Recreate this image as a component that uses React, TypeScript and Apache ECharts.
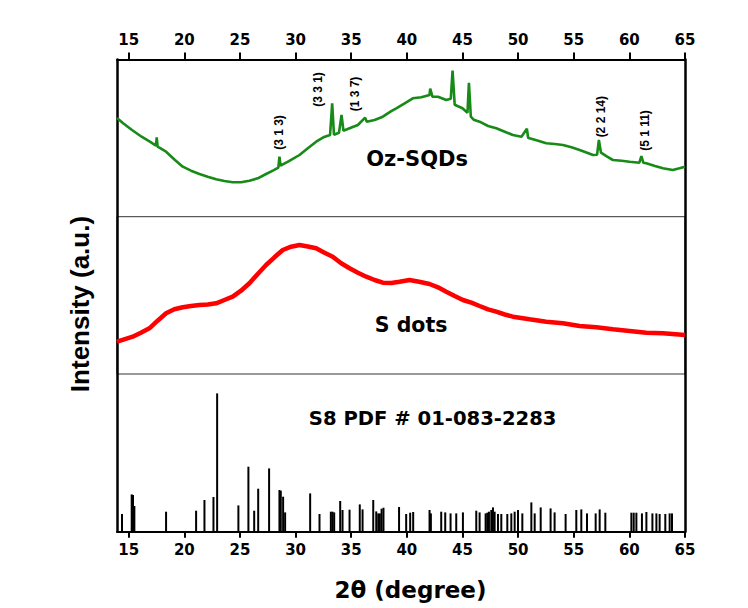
import React, { useEffect, useRef } from "react";
import * as echarts from "echarts";

// ---------- data ----------
const xTicks = [15, 20, 25, 30, 35, 40, 45, 50, 55, 60, 65];

// Oz-SQDs (green) – 2θ and relative intensity within the top panel
const greenX = [13.95, 14.5, 15.3, 16.16, 16.9, 17.45, 17.52, 17.6, 18.36, 19.16, 19.86, 20.6, 21.36, 22.1, 22.86, 23.6, 24.35, 25.1, 25.85, 26.6, 27.35, 28.0, 28.45, 28.55, 28.65, 29.4, 30.35, 31.1, 31.85, 32.5, 33.1, 33.29, 33.45, 33.9, 34.13, 34.3, 34.85, 35.6, 36.25, 36.4, 37.1, 37.84, 38.6, 39.05, 39.8, 40.54, 41.3, 42.04, 42.1, 42.3, 42.8, 43.54, 43.95, 44.11, 44.3, 45.0, 45.45, 45.58, 45.75, 46.0, 46.54, 47.3, 48.04, 48.8, 49.53, 50.3, 50.79, 50.9, 51.03, 51.8, 52.53, 53.3, 54.03, 54.8, 55.53, 56.2, 56.73, 57.1, 57.26, 57.45, 58.0, 58.52, 59.3, 60.02, 60.9, 61.08, 61.25, 61.52, 62.3, 63.02, 63.9, 64.5, 65.0];
const greenY = [98.7, 93.4, 86.7, 80, 75, 71, 79.4, 70, 65, 56.7, 50, 46, 42.7, 40, 37.4, 35.7, 34.4, 34.4, 36, 38.4, 42.7, 46.3, 49, 60, 51, 55.5, 61.7, 68.4, 75, 79.4, 81.7, 113.4, 82, 84, 101.7, 86, 88.4, 91.7, 99, 95, 96.7, 100, 105.5, 108.4, 113.4, 118.4, 119.4, 121.7, 128, 120, 120, 116.7, 118, 146, 112, 108.4, 104, 134, 100, 97, 95, 90.7, 88.4, 85, 81.7, 80, 88, 79, 78.4, 76, 73.4, 72.7, 71.7, 69.4, 66.7, 64, 61.7, 62, 76.7, 64, 60, 56.7, 56, 55, 54, 60.7, 54, 53.4, 50.7, 48.4, 46.7, 48.4, 50];

// S dots (red) – middle panel
const redX = [13.95, 14.6, 15.36, 16.1, 16.86, 17.6, 18.36, 19.1, 19.86, 20.6, 21.36, 22.1, 22.86, 23.6, 24.35, 25.1, 25.85, 26.6, 27.35, 28.1, 28.85, 29.6, 30.35, 31.1, 31.85, 32.6, 33.34, 34.1, 34.85, 35.6, 36.35, 37.1, 37.84, 38.6, 39.34, 40.24, 41.1, 42.04, 42.8, 43.54, 44.3, 45.04, 45.8, 46.54, 47.3, 48.04, 48.8, 49.53, 51.03, 52.53, 54.03, 55.53, 57.03, 58.52, 60.02, 61.52, 63.02, 65.0];
const redY = [32.3, 34.7, 37.3, 41.3, 45.7, 53.3, 60.7, 64.7, 66.7, 68, 69, 69.5, 70.7, 74, 77.3, 83.3, 90.7, 100, 109, 116.7, 124, 127.3, 129, 127.5, 125.7, 121.3, 117.3, 110.7, 105.7, 101.3, 97.3, 94, 91.3, 91, 92.3, 94, 92.3, 90, 86.7, 82.3, 78, 74, 71.3, 68, 64.7, 62.3, 59.5, 57.3, 54.7, 52.3, 50.7, 48, 46.7, 44.7, 43, 41.3, 40.7, 39];

// S8 PDF # 01-083-2283 reference sticks – bottom panel
const stickX = [14.4, 15.27, 15.39, 15.51, 18.36, 21.06, 21.81, 22.62, 22.95, 24.86, 25.76, 26.28, 26.64, 27.62, 28.55, 28.67, 28.88, 29.06, 31.31, 32.15, 33.17, 33.32, 33.47, 34.01, 34.22, 34.85, 35.77, 36.02, 36.98, 37.25, 37.43, 37.57, 37.73, 37.9, 39.3, 39.94, 40.3, 40.57, 42.04, 42.16, 43.09, 43.45, 43.93, 44.44, 45.04, 46.24, 46.54, 47.08, 47.23, 47.38, 47.59, 47.74, 47.89, 48.19, 48.49, 49.03, 49.39, 49.69, 49.99, 50.38, 51.19, 51.49, 52.03, 52.92, 53.28, 54.27, 55.23, 55.68, 56.19, 56.97, 57.33, 57.84, 60.18, 60.39, 60.63, 61.13, 61.53, 62.07, 62.43, 62.72, 63.23, 63.62, 63.83];
const stickH = [17.7, 37.3, 36.7, 25.7, 20, 21, 31.7, 34.7, 138.3, 26.3, 65, 21, 43, 63.3, 41.7, 41, 35, 19.3, 38.3, 17.7, 20, 20, 19.3, 30.7, 21.7, 22, 27.3, 22.3, 31.7, 20.3, 18.3, 18.3, 23, 24, 24.7, 17.7, 19, 19.7, 21.7, 18.3, 20, 19.3, 18.3, 18.3, 19.3, 21, 19.3, 18.3, 19, 20, 21.7, 24.3, 20, 17.7, 17.7, 17.7, 18.3, 20, 21.7, 18.3, 29.3, 18.3, 24.3, 23.3, 19.3, 17.7, 21.7, 22.3, 18.3, 18.3, 22.3, 19, 19, 19, 19, 18.3, 19.7, 18.3, 18.3, 17.7, 17.7, 18.3, 18.3];

// (hkl) annotations on the Oz-SQDs pattern
const hklText = ["(3 1 3)", "(3 3 1)", "(1 3 7)", "(2 2 14)", "(5 1 11)"];
const hklX = [28.5, 32.0, 35.3, 57.48, 61.37];
const hklY = [84.2, 127.2, 122.7, 100, 86.2];

// panel labels
const panelNames = ["Oz-SQDs", "S dots", "S8 PDF # 01-083-2283"];
const panelLabelX = [40.92, 40.38, 42.32];
const panelLabelY = [57.7, 49, 113.7];

const xAxisName = "2\u03b8 (degree)";
const yAxisName = "Intensity (a.u.)";

// ---------- layout ----------
const X_MIN = 13.95;
const X_MAX = 65;
const LEFT = 117;
const RIGHT = 63;
const TOP = 59.5;
const DIV1 = 216.7;
const DIV2 = 374;
const BOTTOM_Y = 531.7;
const H_FONT = "DejaVu Sans";
const A_FONT = "Liberation Sans";

const zip = (a: number[], b: number[]) => a.map((v, i) => [v, b[i]]);

export default function App() {
  const ref = useRef<HTMLDivElement>(null);

  useEffect(() => {
    if (!ref.current) return;
    const chart = echarts.init(ref.current, undefined, { renderer: "svg" });

    const hiddenX = (gridIndex: number) => ({
      gridIndex,
      type: "value",
      min: X_MIN,
      max: X_MAX,
      show: false,
    });
    const hiddenY = (gridIndex: number, max: number) => ({
      gridIndex,
      type: "value",
      min: 0,
      max,
      show: false,
    });
    const frameX = (position: "top" | "bottom", margin: number, tickLen: number) => ({
      gridIndex: 0,
      type: "value",
      position,
      min: X_MIN,
      max: X_MAX,
      axisLine: { show: true, onZero: false, lineStyle: { color: "#000", width: 2 } },
      axisTick: {
        show: true,
        inside: false,
        length: tickLen,
        customValues: xTicks,
        lineStyle: { color: "#000", width: 2 },
      },
      axisLabel: {
        show: true,
        customValues: xTicks,
        margin,
        color: "#000",
        fontFamily: H_FONT,
        fontWeight: "bold",
        fontSize: 15,
      },
      splitLine: { show: false },
    });
    const frameY = (position: "left" | "right") => ({
      gridIndex: 0,
      type: "value",
      position,
      min: 0,
      max: 1,
      axisLine: { show: true, onZero: false, lineStyle: { color: "#000", width: 2.5 } },
      axisTick: { show: false },
      axisLabel: { show: false },
      splitLine: { show: false },
    });

    const panelLabelSeries = (i: number, fontSize: number) => ({
      type: "scatter",
      xAxisIndex: 2 + i,
      yAxisIndex: 2 + i,
      symbolSize: 0,
      silent: true,
      z: 10,
      itemStyle: { opacity: 1 },
      data: [{ name: panelNames[i], value: [panelLabelX[i], panelLabelY[i]] }],
      label: {
        show: true,
        position: "inside",
        formatter: "{b}",
        color: "#000",
        opacity: 1,
        fontFamily: H_FONT,
        fontWeight: "bold",
        fontSize,
      },
    });

    chart.setOption({
      animation: false,
      backgroundColor: "#fff",
      grid: [
        { left: LEFT, right: RIGHT, top: TOP, bottom: 608 - BOTTOM_Y },
        { left: LEFT, right: RIGHT, top: TOP, height: DIV1 - TOP },
        {
          left: LEFT,
          right: RIGHT,
          top: DIV1,
          height: DIV2 - DIV1,
          show: true,
          borderWidth: 1,
          borderColor: "#333",
          backgroundColor: "transparent",
        },
        { left: LEFT, right: RIGHT, top: DIV2, height: BOTTOM_Y - DIV2 },
      ],
      xAxis: [
        frameX("bottom", 11, 6),
        frameX("top", 12, 7),
        hiddenX(1),
        hiddenX(2),
        hiddenX(3),
      ],
      yAxis: [
        frameY("left"),
        frameY("right"),
        hiddenY(1, DIV1 - TOP),
        hiddenY(2, DIV2 - DIV1),
        hiddenY(3, BOTTOM_Y - DIV2),
      ],
      series: [
        {
          name: "Oz-SQDs",
          type: "line",
          xAxisIndex: 2,
          yAxisIndex: 2,
          data: zip(greenX, greenY),
          symbol: "none",
          showSymbol: false,
          lineStyle: { color: "#178a17", width: 2.6 },
          z: 3,
        },
        {
          name: "S dots",
          type: "line",
          xAxisIndex: 3,
          yAxisIndex: 3,
          data: zip(redX, redY),
          symbol: "none",
          showSymbol: false,
          lineStyle: { color: "#ff0000", width: 4.5 },
          z: 3,
        },
        {
          name: "S8 PDF",
          type: "bar",
          xAxisIndex: 4,
          yAxisIndex: 4,
          data: zip(stickX, stickH),
          barWidth: 2,
          itemStyle: { color: "#000" },
          z: 3,
        },
        {
          name: "hkl",
          type: "scatter",
          xAxisIndex: 2,
          yAxisIndex: 2,
          symbolSize: 0,
          silent: true,
          z: 10,
          itemStyle: { opacity: 1 },
          data: hklText.map((t, i) => ({ name: t, value: [hklX[i], hklY[i]] })),
          label: {
            show: true,
            position: "inside",
            rotate: 90,
            formatter: "{b}",
            color: "#000",
            opacity: 1,
            fontFamily: A_FONT,
            fontWeight: "bold",
            fontSize: 12,
          },
        },
        panelLabelSeries(0, 21),
        panelLabelSeries(1, 20.5),
        panelLabelSeries(2, 19.6),
      ],
      graphic: [
        {
          type: "text",
          x: 80.2,
          y: 304,
          rotation: Math.PI / 2,
          style: {
            text: yAxisName,
            fill: "#000",
            font: `bold 26px "${A_FONT}"`,
            align: "center",
            verticalAlign: "middle",
          },
        },
        {
          type: "text",
          x: 410.5,
          y: 589.7,
          style: {
            text: xAxisName,
            fill: "#000",
            font: `bold 23px "${H_FONT}"`,
            align: "center",
            verticalAlign: "middle",
          },
        },
      ],
    });

    return () => chart.dispose();
  }, []);

  return (
    <div
      ref={ref}
      style={{ position: "fixed", left: 0, top: 0, width: 748, height: 608 }}
    />
  );
}
